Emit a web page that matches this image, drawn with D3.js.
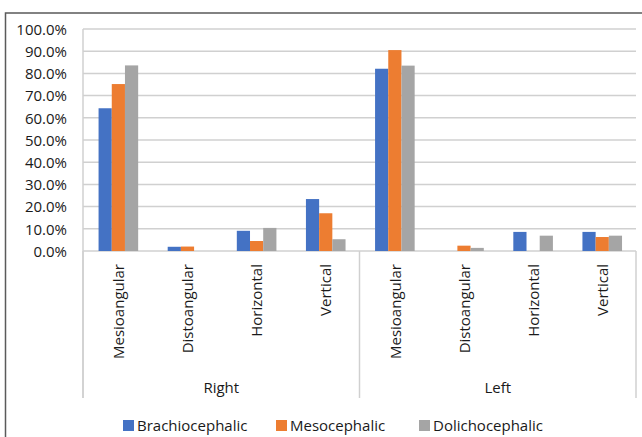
<!DOCTYPE html>
<html>
<head>
<meta charset="utf-8">
<script src="https://cdn.jsdelivr.net/npm/d3@7"></script>
<style>
  html, body { margin: 0; padding: 0; background: #fff; overflow: hidden; }
  svg { display: block; font-family: "Open Sans", sans-serif; }
</style>
</head>
<body>
<svg id="chart" width="642" height="437"></svg>
<script>
// Impaction angulation by side and skull type (percent of cases)
const groups = ["Right", "Left"];
const categories = ["Mesioangular", "Distoangular", "Horizontal", "Vertical"];
const seriesNames = ["Brachiocephalic", "Mesocephalic", "Dolichocephalic"];
const seriesColors = ["#4472C4", "#ED7D31", "#A5A5A5"];
const brachiocephalic = [64.3, 1.9, 9.1, 23.4, 82.1, 0, 8.6, 8.6];
const mesocephalic    = [75.2, 2.0, 4.5, 17.0, 90.5, 2.4, 0, 6.3];
const dolichocephalic = [83.6, 0, 10.4, 5.3, 83.5, 1.4, 6.9, 6.9];
const yTicks = [0, 10, 20, 30, 40, 50, 60, 70, 80, 90, 100];

const seriesValues = [brachiocephalic, mesocephalic, dolichocephalic];
const slots = groups.flatMap(g => categories.map(c => g + "|" + c));

const svg = d3.select("#chart");
const plot = { left: 83, right: 636, top: 29, bottom: 251 };
const fontSize = 15;
const textColor = "#1a1a1a";
const gridColor = "#D0D0D0";

// Outer chart frame (extends past the right and bottom window edges)
svg.append("rect")
  .attr("x", 5.5).attr("y", 13)
  .attr("width", 700).attr("height", 500)
  .attr("fill", "none").attr("stroke", "#5a5a5a").attr("stroke-width", 1.5);

const y = d3.scaleLinear().domain([0, 100]).range([plot.bottom, plot.top]);
const x = d3.scaleBand().domain(slots).range([plot.left, plot.right]).padding(0);
const barW = 13.2;
const xs = d3.scaleBand().domain(d3.range(seriesNames.length))
  .range([0, barW * seriesNames.length]).padding(0);
const groupOffset = (x.bandwidth() - barW * seriesNames.length) / 2 + 0.8;

// Horizontal gridlines
svg.append("g").selectAll("line").data(yTicks).join("line")
  .attr("x1", plot.left).attr("x2", plot.right)
  .attr("y1", d => y(d)).attr("y2", d => y(d))
  .attr("stroke", gridColor).attr("stroke-width", 1.5);

// Value axis line
svg.append("line")
  .attr("x1", plot.left).attr("x2", plot.left)
  .attr("y1", y(100)).attr("y2", 398)
  .attr("stroke", gridColor).attr("stroke-width", 1.5);

// Y tick labels
const yAxis = d3.axisLeft(y).tickValues(yTicks)
  .tickFormat(d => d3.format(".1f")(d) + "%").tickSize(0).tickPadding(0);
const yg = svg.append("g").attr("transform", `translate(67,0)`).call(yAxis);
yg.select(".domain").remove();
yg.selectAll("text")
  .attr("font-family", "Open Sans, sans-serif")
  .attr("font-size", fontSize).attr("fill", textColor).attr("dy", "0.35em");

// Bars
seriesValues.forEach((vals, si) => {
  svg.append("g").selectAll("rect").data(vals).join("rect")
    .attr("x", (d, i) => x(slots[i]) + groupOffset + xs(si))
    .attr("width", xs.bandwidth())
    .attr("y", d => y(d))
    .attr("height", d => y(0) - y(d))
    .attr("fill", seriesColors[si]);
});

// Group divider lines below the axis
const groupEdges = [plot.left, x(slots[categories.length]), plot.right];
svg.append("g").selectAll("line").data(groupEdges).join("line")
  .attr("x1", d => d).attr("x2", d => d)
  .attr("y1", plot.bottom).attr("y2", 398)
  .attr("stroke", gridColor).attr("stroke-width", 1.5);

// Category labels, rotated
svg.append("g").selectAll("text").data(slots).join("text")
  .attr("transform", d => `translate(${x(d) + x.bandwidth() / 2 + 6.5},264) rotate(-90)`)
  .attr("text-anchor", "end")
  .attr("font-size", fontSize).attr("fill", textColor)
  .text(d => d.split("|")[1]);

// Group labels
svg.append("g").selectAll("text").data(groups).join("text")
  .attr("x", (g, i) => (groupEdges[i] + groupEdges[i + 1]) / 2)
  .attr("y", 393)
  .attr("text-anchor", "middle")
  .attr("font-size", fontSize).attr("fill", textColor)
  .text(g => g);

// Legend
const legendX = [123, 276, 419];
const leg = svg.append("g").selectAll("g").data(seriesNames).join("g")
  .attr("transform", (d, i) => `translate(${legendX[i]},420)`);
leg.append("rect").attr("width", 11).attr("height", 11)
  .attr("fill", (d, i) => seriesColors[i]);
leg.append("text").attr("x", 14).attr("y", 10.5)
  .attr("font-size", fontSize).attr("fill", textColor)
  .text(d => d);
</script>
</body>
</html>
